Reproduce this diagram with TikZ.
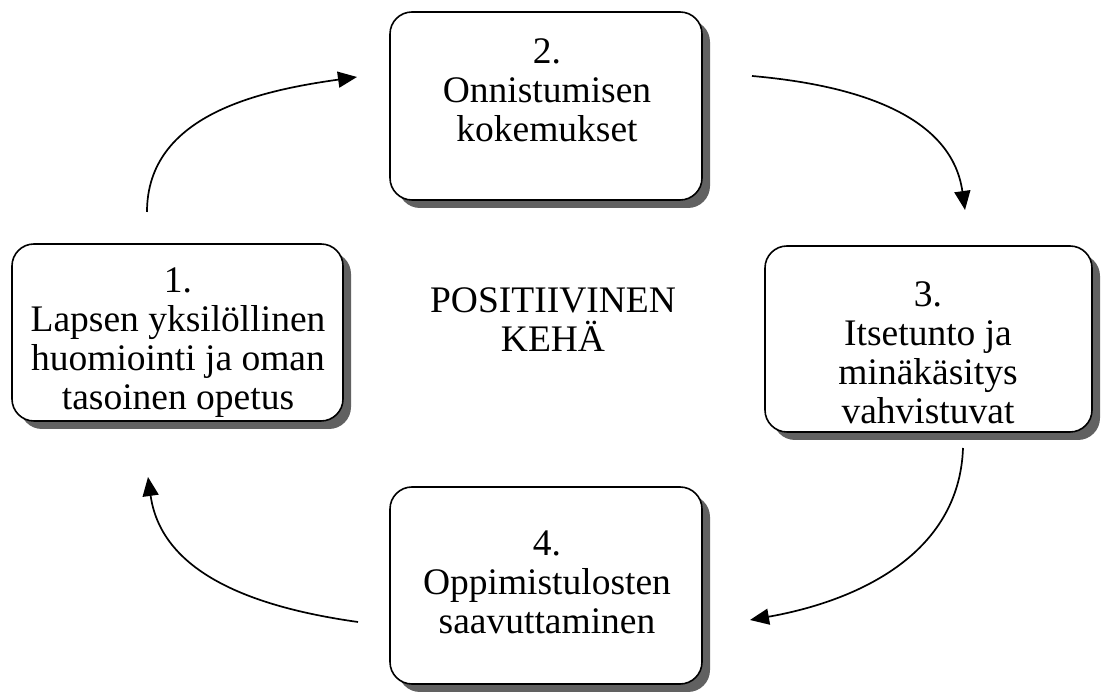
\documentclass[tikz,border=0pt]{standalone}
\usepackage{fontspec}
\setmainfont{Liberation Serif}
\usetikzlibrary{arrows.meta,shadows}
\tikzset{
    card/.style={draw, line width=1.6pt, rounded corners=22pt, fill=white,
        drop shadow={shadow xshift=8pt, shadow yshift=-8pt, fill=black!62, opacity=1}}, % laatikot varjolla
    cardtext/.style={align=center, font=\fontsize{37.5}{39}\selectfont}, % laatikoiden teksti
    cycle arrow/.style={line width=1.7pt, -{Triangle[length=19pt, width=16pt]}} % kehän nuolet
}
\begin{document}
\begin{tikzpicture}[x=1pt, y=1pt]
    \useasboundingbox (0,0) rectangle (1105,695);

    \node[card, minimum width=331pt, minimum height=177pt] (b1) at (177.5,362.5) {};
    \node[card, minimum width=312pt, minimum height=188pt] (b2) at (546,589) {};
    \node[card, minimum width=327pt, minimum height=186pt] (b3) at (928.5,356) {};
    \node[card, minimum width=312pt, minimum height=197pt] (b4) at (546,109.5) {};

    \node[cardtext] (t1) at (178,352) {1.\\Lapsen yksilöllinen\\huomiointi ja oman\\tasoinen opetus};
    \node[cardtext] (t2) at (547,605) {2.\\Onnistumisen\\kokemukset};
    \node[cardtext] (t3) at (928,342) {3.\\Itsetunto ja\\minäkäsitys\\vahvistuvat};
    \node[cardtext] (t4) at (547,113) {4.\\Oppimistulosten\\saavuttaminen};
    \node[cardtext] (mid) at (553,375) {POSITIIVINEN\\KEHÄ};

    \coordinate (a1s) at (147,483); \coordinate (a1e) at (357,618);
    \coordinate (a2s) at (752,619); \coordinate (a2e) at (965,485);
    \coordinate (a3s) at (963,247); \coordinate (a3e) at (750,75);
    \coordinate (a4s) at (358,73);  \coordinate (a4e) at (148,218);
    \draw[cycle arrow] (a1s) to[out=90, in=188] (a1e);
    \draw[cycle arrow] (a2s) to[out=-5, in=98] (a2e);
    \draw[cycle arrow] (a3s) to[out=-92, in=10] (a3e);
    \draw[cycle arrow] (a4s) to[out=172, in=-82] (a4e);
\end{tikzpicture}
\end{document}
